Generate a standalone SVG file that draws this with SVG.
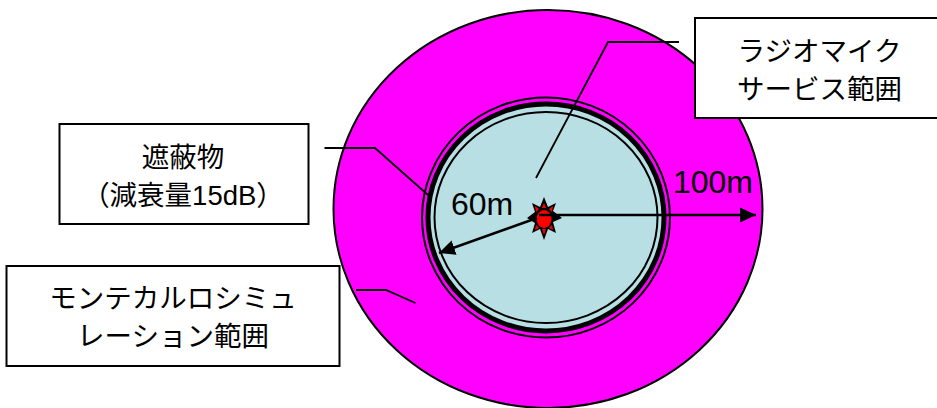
<svg xmlns="http://www.w3.org/2000/svg" width="937" height="408" viewBox="0 0 937 408">
<style>
.c{stroke:#000;fill:none;stroke-width:2.500}
.box{fill:#fff;stroke:#000;stroke-width:2}
.t{font-family:"Liberation Sans","Noto Sans CJK JP",sans-serif;font-size:27.500px;fill:#000;text-anchor:middle}
.m{font-family:"Liberation Sans",sans-serif;font-size:32px;fill:#000;text-anchor:middle}
.l{fill:none;stroke:#000;stroke-width:1.800}
</style>
<defs>
<marker id="a" markerUnits="userSpaceOnUse" markerWidth="18" markerHeight="16" refX="16" refY="8" orient="auto"><path d="M0 0.500L16 8L0 15.500Z" fill="#000"/></marker>
</defs>
<rect width="937" height="408" fill="#fff"/>
<g id="area">
<ellipse cx="548" cy="209" rx="214.500" ry="199" fill="#ff00ff" stroke="#000" stroke-width="2"/>
<ellipse cx="546" cy="217.500" rx="124" ry="120" fill="#ff00ff" stroke="#000" stroke-width="2"/>
<ellipse cx="546" cy="217.500" rx="118" ry="113.500" fill="#b8dfe3" stroke="#000" stroke-width="5"/>
<ellipse cx="546" cy="217.500" rx="111.500" ry="105.500" fill="#b8dfe3" stroke="#000" stroke-width="2"/>
</g>
<g id="source">
<polygon points="544,197 548,207 556,203 553,211 562,218 553,222 556,233 548,229 544,240 540,229 532,233 535,223 527,218 535,212 532,203 540,207" fill="#000"/>
<path d="M544 203L546 208H542ZM535 206L539 209L536 212ZM553 206L552 212L549 209ZM535 230L536 225L539 228ZM553 230L549 228L552 225ZM544 235L542 229H546Z" fill="#f00"/>
<ellipse cx="544" cy="219" rx="7.500" ry="9" fill="#f00"/>
</g>
<g id="connectors">
<path class="l" d="M679 42H608L536 178"/>
<path class="l" d="M324.500 148H375L428 195"/>
<path class="l" d="M356 290H386L415.500 303"/>
<path class="c" d="M539 215H756" marker-end="url(#a)"/>
<path class="c" d="M537 218L439 253" marker-end="url(#a)"/>
</g>
<g id="label-60m"><text class="m" x="482" y="215">60m</text></g>
<g id="label-100m"><text class="m" x="713" y="193">100m</text></g>
<g id="box-mic">
<rect class="box" x="695" y="18" width="243" height="100"/>
<text class="t" x="819.500" y="61">ラジオマイク</text>
<text class="t" x="819.500" y="99">サービス範囲</text>
</g>
<g id="box-shield">
<rect class="box" x="59.500" y="124" width="249" height="100"/>
<text class="t" x="183" y="167">遮蔽物</text>
<text class="t" x="183" y="205">（減衰量15dB）</text>
</g>
<g id="box-mc">
<rect class="box" x="6.500" y="266" width="333" height="100"/>
<text class="t" x="173" y="308">モンテカルロシミュ</text>
<text class="t" x="173" y="346">レーション範囲</text>
</g>
</svg>
